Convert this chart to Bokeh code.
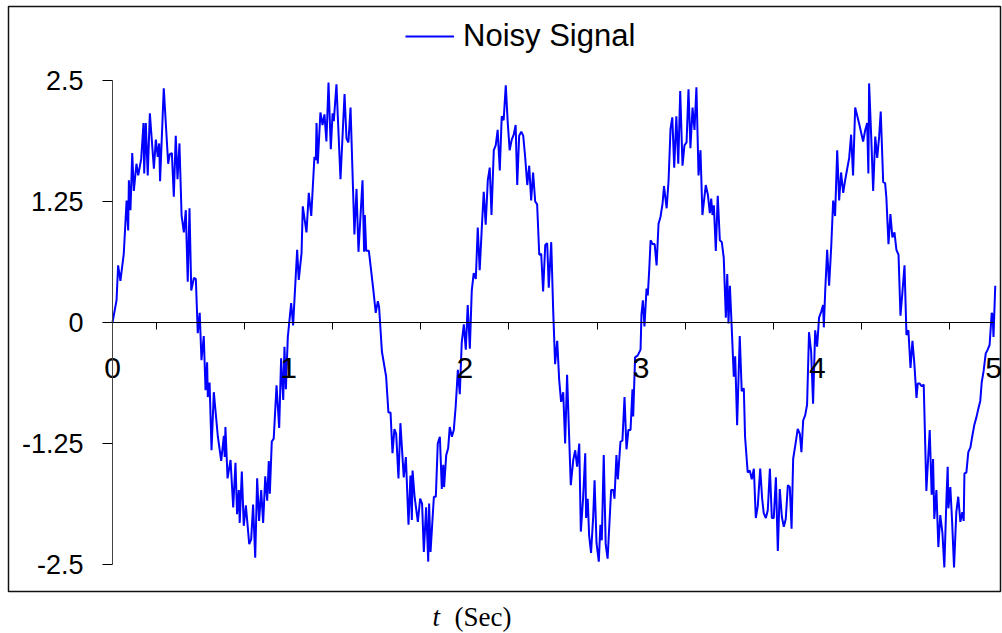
from bokeh.plotting import figure
from bokeh.models import FixedTicker, Legend, LegendItem, Label, Range1d, BoxAnnotation
from bokeh.embed import file_html
from bokeh.resources import INLINE

# ---- data ----
t = [0.0, 0.023, 0.032, 0.045, 0.064, 0.08, 0.089, 0.093, 0.102, 0.112, 0.121, 0.136, 0.146, 0.163, 0.176, 0.18,
     0.189, 0.2, 0.212, 0.235, 0.246, 0.257, 0.265, 0.27, 0.291, 0.316, 0.325, 0.337, 0.348, 0.359, 0.369, 0.38,
     0.392, 0.405, 0.416, 0.427, 0.437, 0.447, 0.462, 0.473, 0.484, 0.495, 0.505, 0.518, 0.528, 0.537, 0.541,
     0.551, 0.562, 0.575, 0.598, 0.617, 0.632, 0.637, 0.641, 0.653, 0.67, 0.685, 0.698, 0.707, 0.717, 0.722,
     0.734, 0.745, 0.757, 0.776, 0.787, 0.798, 0.81, 0.821, 0.832, 0.844, 0.855, 0.867, 0.878, 0.887, 0.893,
     0.904, 0.915, 0.931, 0.946, 0.957, 0.969, 0.976, 0.984, 0.995, 1.014, 1.025, 1.048, 1.057, 1.073, 1.08,
     1.101, 1.114, 1.128, 1.146, 1.154, 1.158, 1.165, 1.18, 1.192, 1.203, 1.214, 1.226, 1.239, 1.249, 1.256,
     1.271, 1.294, 1.317, 1.328, 1.339, 1.351, 1.373, 1.385, 1.396, 1.419, 1.428, 1.432, 1.44, 1.455, 1.479,
     1.494, 1.506, 1.513, 1.529, 1.553, 1.566, 1.578, 1.589, 1.6, 1.61, 1.623, 1.634, 1.653, 1.665, 1.68, 1.691,
     1.699, 1.703, 1.714, 1.733, 1.746, 1.757, 1.767, 1.78, 1.792, 1.797, 1.805, 1.824, 1.835, 1.846, 1.858,
     1.869, 1.877, 1.882, 1.894, 1.905, 1.914, 1.926, 1.937, 1.948, 1.96, 1.971, 1.982, 1.994, 2.005, 2.016,
     2.028, 2.039, 2.05, 2.062, 2.073, 2.084, 2.096, 2.107, 2.118, 2.13, 2.141, 2.151, 2.164, 2.175, 2.186,
     2.198, 2.209, 2.22, 2.232, 2.243, 2.254, 2.266, 2.277, 2.288, 2.297, 2.308, 2.32, 2.331, 2.342, 2.354,
     2.365, 2.376, 2.387, 2.399, 2.41, 2.422, 2.433, 2.444, 2.456, 2.467, 2.476, 2.49, 2.501, 2.512, 2.524,
     2.535, 2.546, 2.558, 2.569, 2.58, 2.592, 2.601, 2.615, 2.626, 2.637, 2.649, 2.658, 2.671, 2.683, 2.688,
     2.697, 2.705, 2.716, 2.728, 2.736, 2.747, 2.76, 2.769, 2.777, 2.788, 2.799, 2.81, 2.83, 2.842, 2.849,
     2.86, 2.868, 2.883, 2.894, 2.906, 2.917, 2.928, 2.94, 2.951, 2.955, 2.966, 2.981, 2.997, 3.002, 3.01,
     3.019, 3.031, 3.038, 3.046, 3.054, 3.065, 3.077, 3.088, 3.099, 3.11, 3.122, 3.13, 3.145, 3.156, 3.167,
     3.177, 3.188, 3.2, 3.211, 3.222, 3.235, 3.246, 3.258, 3.269, 3.28, 3.292, 3.303, 3.314, 3.326, 3.337,
     3.348, 3.367, 3.379, 3.39, 3.398, 3.405, 3.413, 3.424, 3.435, 3.447, 3.458, 3.469, 3.481, 3.489, 3.496,
     3.504, 3.515, 3.526, 3.534, 3.545, 3.56, 3.571, 3.583, 3.59, 3.605, 3.617, 3.628, 3.64, 3.651, 3.662,
     3.676, 3.687, 3.696, 3.708, 3.719, 3.731, 3.742, 3.753, 3.765, 3.776, 3.787, 3.799, 3.81, 3.821, 3.833,
     3.844, 3.854, 3.863, 3.875, 3.889, 3.901, 3.91, 3.92, 3.931, 3.942, 3.953, 3.965, 3.976, 3.988, 3.999,
     4.01, 4.022, 4.033, 4.037, 4.045, 4.056, 4.067, 4.079, 4.09, 4.101, 4.113, 4.124, 4.135, 4.147, 4.158,
     4.169, 4.181, 4.192, 4.203, 4.215, 4.238, 4.26, 4.271, 4.283, 4.29, 4.294, 4.306, 4.317, 4.329, 4.34,
     4.351, 4.36, 4.374, 4.385, 4.392, 4.404, 4.415, 4.426, 4.438, 4.449, 4.461, 4.472, 4.483, 4.495, 4.506,
     4.517, 4.529, 4.54, 4.551, 4.563, 4.57, 4.581, 4.593, 4.604, 4.619, 4.638, 4.649, 4.657, 4.664, 4.676,
     4.687, 4.698, 4.71, 4.721, 4.733, 4.74, 4.744, 4.755, 4.765, 4.776, 4.789, 4.8, 4.812, 4.823, 4.831,
     4.835, 4.846, 4.857, 4.869, 4.88, 4.891, 4.903, 4.914, 4.925, 4.933, 4.944, 4.956, 4.967, 4.978, 4.99,
     4.995, 5.0, 5.01]
signal = [0.0, 0.23, 0.59, 0.43, 0.71, 1.26, 0.95, 1.47, 1.16, 1.75, 1.36, 1.64, 1.52, 1.69, 2.06, 1.54,
          2.06, 1.52, 2.16, 1.59, 1.89, 1.71, 1.85, 1.46, 2.42, 1.64, 1.74, 1.75, 1.3, 1.93, 1.48, 1.85,
          1.11, 0.93, 1.16, 0.42, 1.18, 0.33, 0.46, 0.45, -0.11, 0.1, -0.39, -0.14, -0.7, -0.41, -0.77,
          -0.62, -1.32, -0.72, -1.18, -1.43, -1.17, -1.39, -1.08, -1.61, -1.42, -1.91, -1.45, -1.98, -1.73, -2.07,
          -1.54, -2.1, -1.89, -2.29, -2.24, -1.88, -2.43, -1.61, -2.05, -1.73, -2.07, -1.59, -1.84, -1.43, -1.77,
          -1.23, -1.2, -0.65, -1.09, -0.37, -0.8, -0.25, -0.69, -0.15, 0.2, -0.03, 0.75, 0.44, 0.72, 1.2,
          0.93, 1.34, 1.1, 1.71, 1.68, 2.06, 1.64, 2.17, 2.04, 2.15, 1.87, 2.48, 1.79, 2.16, 2.08,
          2.46, 1.48, 2.36, 1.9, 1.86, 2.22, 0.91, 1.38, 0.73, 1.47, 0.73, 1.11, 0.74, 0.74, 0.36,
          0.1, 0.22, 0.16, -0.3, -0.56, -0.93, -0.93, -1.35, -1.1, -1.15, -1.61, -1.04, -1.6, -1.39, -2.09, -1.58,
          -2.04, -1.53, -1.79, -2.06, -1.82, -1.87, -2.37, -1.91, -2.47, -1.87, -2.37, -1.8, -1.8, -1.25, -1.18,
          -1.72, -1.47, -1.7, -1.37, -1.3, -1.08, -1.18, -1.11, -0.86, -0.49, -0.74, -0.21, -0.02, -0.28, 0.18,
          -0.27, 0.33, 0.51, 0.45, 0.98, 0.54, 0.98, 1.35, 1.01, 1.47, 1.6, 1.11, 1.78, 1.83, 1.99,
          1.57, 2.13, 2.09, 2.45, 2.07, 1.78, 1.89, 1.94, 2.04, 1.42, 1.93, 1.97, 1.93, 1.71, 1.42,
          1.62, 1.26, 1.55, 1.25, 1.22, 0.7, 0.71, 0.32, 0.8, 0.82, 0.36, 0.83, 0.13, -0.43, -0.19,
          -0.59, -0.82, -0.72, -1.25, -0.54, -1.2, -1.68, -1.42, -1.32, -1.49, -1.25, -2.16, -1.81, -1.35, -2.02,
          -1.82, -2.2, -2.38, -2.01, -1.63, -2.28, -2.47, -2.09, -2.25, -1.37, -2.29, -2.44, -1.73, -1.73, -1.82,
          -1.37, -1.62, -1.23, -1.22, -0.77, -1.31, -1.11, -1.11, -0.69, -0.97, -0.36, -0.34, -0.28, 0.08, 0.23,
          -0.04, 0.35, 0.28, 0.54, 0.85, 0.81, 0.81, 0.59, 1.02, 1.09, 1.23, 1.41, 1.18, 1.47, 2.0,
          2.12, 1.6, 2.13, 1.64, 2.39, 1.62, 1.83, 1.86, 2.41, 1.8, 2.22, 1.99, 2.43, 1.52, 1.78,
          1.11, 1.42, 1.32, 1.13, 1.28, 1.11, 1.21, 0.74, 1.31, 0.85, 0.83, 0.67, 0.05, 0.5, -0.01,
          0.38, -0.08, -0.56, -0.35, -1.06, -0.14, -0.71, -0.68, -1.18, -1.55, -1.53, -1.62, -1.51, -2.02, -1.9,
          -1.51, -1.82, -1.97, -2.02, -1.94, -1.51, -2.02, -2.02, -1.6, -2.36, -1.72, -2.01, -2.11, -2.03, -1.68,
          -1.7, -2.13, -1.41, -1.27, -1.1, -1.15, -1.34, -1.01, -0.96, -0.85, -0.1, -0.3, -0.84, -0.08, -0.25,
          0.05, 0.11, 0.18, -0.05, 0.33, 0.75, 0.38, 0.78, 1.26, 1.1, 1.78, 1.26, 1.55, 1.34, 1.47,
          1.58, 1.7, 1.94, 1.52, 2.22, 2.05, 1.87, 1.98, 2.06, 1.54, 2.47, 1.92, 1.36, 1.92, 1.7,
          1.92, 2.18, 1.45, 1.44, 1.29, 0.81, 1.12, 0.88, 0.93, 0.75, 0.7, 0.07, 0.31, 0.59, -0.13,
          -0.08, -0.47, -0.19, -0.43, -0.78, -0.63, -0.63, -0.66, -0.64, -1.74, -1.11, -1.78, -1.41, -2.03, -1.73,
          -2.32, -1.99, -2.17, -2.53, -1.82, -1.49, -1.92, -1.7, -2.05, -2.53, -1.96, -1.8, -2.06, -1.96, -2.05,
          -1.56, -1.55, -1.34, -1.29, -1.17, -1.06, -0.98, -0.89, -0.81, -0.62, -0.5, -0.32, -0.28, -0.23, 0.1,
          0.08, -0.15, 0.38]
series_name = "Noisy Signal"
x_label_ticks = [0, 1, 2, 3, 4, 5]
x_tick_labels = ["0", "1", "2", "3", "4", "5"]
x_minor_ticks = [0, 0.25, 0.75, 1.25, 1.75, 2.25, 2.75, 3.25, 3.75, 4.25, 4.75]
y_ticks = [-2.5, -1.25, 0, 1.25, 2.5]
y_tick_labels = ["-2.5", "-1.25", "0", "1.25", "2.5"]
x_title_var = "t"
x_title_unit = "(Sec)"

SANS = "Liberation Sans"
SERIF = "Liberation Serif"

W, H = 1002, 633
p = figure(width=W, height=H, output_backend="svg", toolbar_location=None,
           x_range=Range1d(-0.6356, 5.0511), y_range=Range1d(-3.2128, 3.3264),
           min_border_left=0, min_border_right=0, min_border_top=0, min_border_bottom=0)
p.grid.visible = False
p.background_fill_color = "white"
p.border_fill_color = "white"
p.outline_line_color = None

# plot-area border (Excel style box)
p.add_layout(BoxAnnotation(left=8, right=1000, top=H - 6, bottom=H - 591,
                           left_units="screen", right_units="screen",
                           top_units="screen", bottom_units="screen",
                           fill_alpha=0, line_color="#111111", line_alpha=1.0, line_width=1.5,
                           level="underlay"))

r = p.line(t, signal, line_color="#0000FF", line_width=2)

xa = p.xaxis[0]
xa.fixed_location = 0
xa.bounds = (x_label_ticks[0], x_label_ticks[-1])
xa.ticker = FixedTicker(ticks=x_label_ticks, minor_ticks=x_minor_ticks)
xa.major_label_overrides = {k: v for k, v in zip(x_label_ticks, x_tick_labels)}
xa.axis_line_color = "black"
xa.axis_line_width = 1
xa.major_tick_line_color = None
xa.major_tick_out = 0
xa.major_tick_in = 0
xa.minor_tick_line_color = "black"
xa.minor_tick_out = 7
xa.minor_tick_in = 0
xa.major_label_standoff = 29
xa.major_label_text_font = SANS
xa.major_label_text_font_size = "30px"
xa.major_label_text_color = "black"

ya = p.yaxis[0]
ya.fixed_location = 0
ya.bounds = (y_ticks[0], y_ticks[-1])
ya.ticker = FixedTicker(ticks=y_ticks)
ya.major_label_overrides = {k: v for k, v in zip(y_ticks, y_tick_labels)}
ya.axis_line_color = "#444444"
ya.axis_line_width = 1
ya.major_tick_line_color = "black"
ya.major_tick_out = 10
ya.major_tick_in = 0
ya.minor_tick_line_color = None
ya.major_label_standoff = 19
ya.major_label_text_font = SANS
ya.major_label_text_font_size = "27px"
ya.major_label_text_color = "black"

legend = Legend(items=[LegendItem(label=series_name, renderers=[r])],
                location=(405, 579), padding=0, margin=0, border_line_color=None,
                background_fill_alpha=0, glyph_width=49, glyph_height=20, label_standoff=9,
                label_text_font=SANS, label_text_font_size="31px", label_text_color="black")
p.add_layout(legend)

p.add_layout(Label(x=432, y=H - 616, x_units="screen", y_units="screen", text=x_title_var,
                   text_font=SERIF, text_font_style="italic", text_font_size="27px",
                   text_baseline="middle", text_color="black"))
p.add_layout(Label(x=454, y=H - 616, x_units="screen", y_units="screen", text=x_title_unit,
                   text_font=SERIF, text_font_size="27px",
                   text_baseline="middle", text_color="black"))

open("out.html", "w").write(file_html(p, INLINE))
